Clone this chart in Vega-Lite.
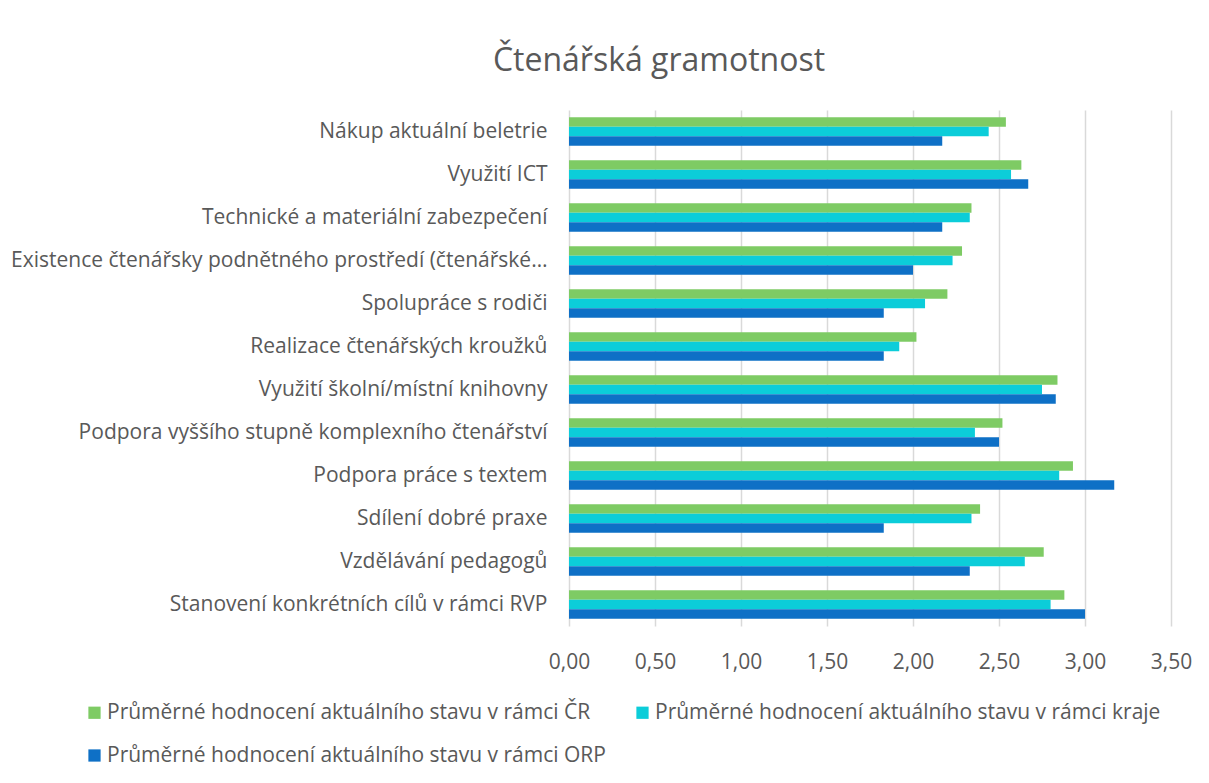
{
  "$schema": "https://vega.github.io/schema/vega-lite/v6.json",
  "width": 602,
  "height": 516,
  "autosize": {"type": "none"},
  "padding": {"left": 569, "top": 110, "right": 38, "bottom": 157},
  "background": "white",
  "title": {
    "text": "Čtenářská gramotnost",
    "anchor": "middle",
    "frame": "group",
    "dx": -211,
    "offset": 7,
    "baseline": "alphabetic",
    "font": "Open Sans",
    "fontSize": 32,
    "fontWeight": "normal",
    "color": "#595959"
  },
  "data": {
    "values": [
      {"kategorie": "Nákup aktuální beletrie", "rada": "Průměrné hodnocení aktuálního stavu  v rámci ČR", "hodnota": 2.54},
      {"kategorie": "Nákup aktuální beletrie", "rada": "Průměrné hodnocení aktuálního stavu  v rámci kraje", "hodnota": 2.44},
      {"kategorie": "Nákup aktuální beletrie", "rada": "Průměrné hodnocení aktuálního stavu  v rámci ORP", "hodnota": 2.17},
      {"kategorie": "Využití ICT", "rada": "Průměrné hodnocení aktuálního stavu  v rámci ČR", "hodnota": 2.63},
      {"kategorie": "Využití ICT", "rada": "Průměrné hodnocení aktuálního stavu  v rámci kraje", "hodnota": 2.57},
      {"kategorie": "Využití ICT", "rada": "Průměrné hodnocení aktuálního stavu  v rámci ORP", "hodnota": 2.67},
      {"kategorie": "Technické a materiální zabezpečení", "rada": "Průměrné hodnocení aktuálního stavu  v rámci ČR", "hodnota": 2.34},
      {"kategorie": "Technické a materiální zabezpečení", "rada": "Průměrné hodnocení aktuálního stavu  v rámci kraje", "hodnota": 2.33},
      {"kategorie": "Technické a materiální zabezpečení", "rada": "Průměrné hodnocení aktuálního stavu  v rámci ORP", "hodnota": 2.17},
      {"kategorie": "Existence čtenářsky podnětného prostředí (čtenářské…", "rada": "Průměrné hodnocení aktuálního stavu  v rámci ČR", "hodnota": 2.285},
      {"kategorie": "Existence čtenářsky podnětného prostředí (čtenářské…", "rada": "Průměrné hodnocení aktuálního stavu  v rámci kraje", "hodnota": 2.23},
      {"kategorie": "Existence čtenářsky podnětného prostředí (čtenářské…", "rada": "Průměrné hodnocení aktuálního stavu  v rámci ORP", "hodnota": 2.0},
      {"kategorie": "Spolupráce s rodiči", "rada": "Průměrné hodnocení aktuálního stavu  v rámci ČR", "hodnota": 2.2},
      {"kategorie": "Spolupráce s rodiči", "rada": "Průměrné hodnocení aktuálního stavu  v rámci kraje", "hodnota": 2.07},
      {"kategorie": "Spolupráce s rodiči", "rada": "Průměrné hodnocení aktuálního stavu  v rámci ORP", "hodnota": 1.83},
      {"kategorie": "Realizace čtenářských kroužků", "rada": "Průměrné hodnocení aktuálního stavu  v rámci ČR", "hodnota": 2.02},
      {"kategorie": "Realizace čtenářských kroužků", "rada": "Průměrné hodnocení aktuálního stavu  v rámci kraje", "hodnota": 1.92},
      {"kategorie": "Realizace čtenářských kroužků", "rada": "Průměrné hodnocení aktuálního stavu  v rámci ORP", "hodnota": 1.83},
      {"kategorie": "Využití školní/místní knihovny", "rada": "Průměrné hodnocení aktuálního stavu  v rámci ČR", "hodnota": 2.84},
      {"kategorie": "Využití školní/místní knihovny", "rada": "Průměrné hodnocení aktuálního stavu  v rámci kraje", "hodnota": 2.75},
      {"kategorie": "Využití školní/místní knihovny", "rada": "Průměrné hodnocení aktuálního stavu  v rámci ORP", "hodnota": 2.83},
      {"kategorie": "Podpora vyššího stupně komplexního čtenářství", "rada": "Průměrné hodnocení aktuálního stavu  v rámci ČR", "hodnota": 2.52},
      {"kategorie": "Podpora vyššího stupně komplexního čtenářství", "rada": "Průměrné hodnocení aktuálního stavu  v rámci kraje", "hodnota": 2.36},
      {"kategorie": "Podpora vyššího stupně komplexního čtenářství", "rada": "Průměrné hodnocení aktuálního stavu  v rámci ORP", "hodnota": 2.5},
      {"kategorie": "Podpora práce s textem", "rada": "Průměrné hodnocení aktuálního stavu  v rámci ČR", "hodnota": 2.93},
      {"kategorie": "Podpora práce s textem", "rada": "Průměrné hodnocení aktuálního stavu  v rámci kraje", "hodnota": 2.85},
      {"kategorie": "Podpora práce s textem", "rada": "Průměrné hodnocení aktuálního stavu  v rámci ORP", "hodnota": 3.17},
      {"kategorie": "Sdílení dobré praxe", "rada": "Průměrné hodnocení aktuálního stavu  v rámci ČR", "hodnota": 2.39},
      {"kategorie": "Sdílení dobré praxe", "rada": "Průměrné hodnocení aktuálního stavu  v rámci kraje", "hodnota": 2.34},
      {"kategorie": "Sdílení dobré praxe", "rada": "Průměrné hodnocení aktuálního stavu  v rámci ORP", "hodnota": 1.83},
      {"kategorie": "Vzdělávání pedagogů", "rada": "Průměrné hodnocení aktuálního stavu  v rámci ČR", "hodnota": 2.76},
      {"kategorie": "Vzdělávání pedagogů", "rada": "Průměrné hodnocení aktuálního stavu  v rámci kraje", "hodnota": 2.65},
      {"kategorie": "Vzdělávání pedagogů", "rada": "Průměrné hodnocení aktuálního stavu  v rámci ORP", "hodnota": 2.33},
      {"kategorie": "Stanovení konkrétních cílů v rámci RVP ", "rada": "Průměrné hodnocení aktuálního stavu  v rámci ČR", "hodnota": 2.88},
      {"kategorie": "Stanovení konkrétních cílů v rámci RVP ", "rada": "Průměrné hodnocení aktuálního stavu  v rámci kraje", "hodnota": 2.8},
      {"kategorie": "Stanovení konkrétních cílů v rámci RVP ", "rada": "Průměrné hodnocení aktuálního stavu  v rámci ORP", "hodnota": 3.0}
    ]
  },
  "mark": {"type": "bar"},
  "encoding": {
    "y": {
      "field": "kategorie",
      "type": "nominal",
      "sort": null,
      "scale": {"paddingInner": 0.34, "paddingOuter": 0.17},
      "axis": {
        "title": null,
        "domain": false,
        "ticks": false,
        "labelPadding": 22,
        "labelFont": "Open Sans",
        "labelFontSize": 21,
        "labelColor": "#595959",
        "labelLimit": 600
      }
    },
    "yOffset": {
      "field": "rada",
      "type": "nominal",
      "sort": [
        "Průměrné hodnocení aktuálního stavu  v rámci ČR",
        "Průměrné hodnocení aktuálního stavu  v rámci kraje",
        "Průměrné hodnocení aktuálního stavu  v rámci ORP"
      ]
    },
    "x": {
      "field": "hodnota",
      "type": "quantitative",
      "scale": {"domain": [0, 3.5], "nice": false},
      "axis": {
        "title": null,
        "values": [0, 0.5, 1, 1.5, 2, 2.5, 3, 3.5],
        "labelExpr": "replace(format(datum.value, '.2f'), '.', ',')",
        "labelFlush": false,
        "labelOverlap": false,
        "domain": false,
        "ticks": false,
        "grid": true,
        "gridColor": "#d9d9d9",
        "gridWidth": 1.5,
        "labelPadding": 25,
        "labelFont": "Open Sans",
        "labelFontSize": 21,
        "labelColor": "#595959"
      }
    },
    "color": {
      "field": "rada",
      "type": "nominal",
      "sort": [
        "Průměrné hodnocení aktuálního stavu  v rámci ČR",
        "Průměrné hodnocení aktuálního stavu  v rámci kraje",
        "Průměrné hodnocení aktuálního stavu  v rámci ORP"
      ],
      "scale": {
        "domain": [
          "Průměrné hodnocení aktuálního stavu  v rámci ČR",
          "Průměrné hodnocení aktuálního stavu  v rámci kraje",
          "Průměrné hodnocení aktuálního stavu  v rámci ORP"
        ],
        "range": ["#7ecb64", "#0ccdd9", "#0e70c6"]
      },
      "legend": {
        "title": null,
        "orient": "none",
        "legendX": -485,
        "legendY": 592,
        "direction": "horizontal",
        "columns": 2,
        "columnPadding": 20,
        "rowPadding": 21,
        "symbolType": "square",
        "symbolSize": 150,
        "symbolStrokeWidth": 0,
        "symbolOffset": 0,
        "labelOffset": 2,
        "labelFont": "Open Sans",
        "labelFontSize": 21,
        "labelColor": "#595959",
        "labelLimit": 700
      }
    }
  },
  "config": {
    "view": {"stroke": null}
  }
}
